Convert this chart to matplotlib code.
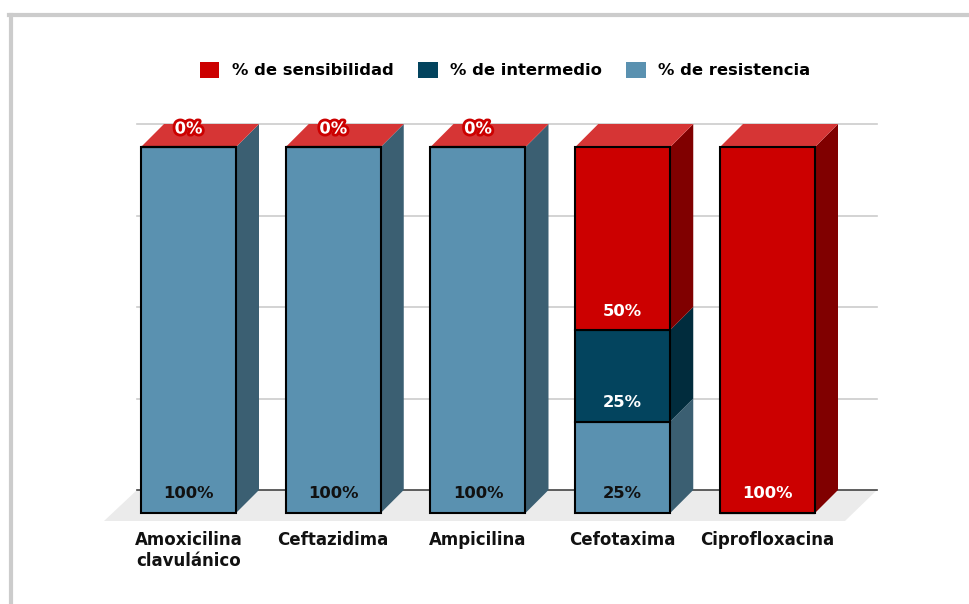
import matplotlib
matplotlib.use("Agg")
import matplotlib.pyplot as plt
from matplotlib.patches import Polygon, Patch
from matplotlib.lines import Line2D
import matplotlib.patheffects as pe

# ---- data ----
categories = ["Amoxicilina\nclavulánico", "Ceftazidima", "Ampicilina", "Cefotaxima", "Ciprofloxacina"]
series_names = ["% de sensibilidad", "% de intermedio", "% de resistencia"]
sensibilidad = [0, 0, 0, 50, 100]
intermedio = [0, 0, 0, 25, 0]
resistencia = [100, 100, 100, 25, 0]
gridticks = [0, 25, 50, 75, 100]

# ---- style ----
front_col = {"sens": "#cc0000", "inter": "#03445e", "res": "#5a91b0"}
side_col = {"sens": "#800000", "inter": "#012c3d", "res": "#3b5f72"}
top_col = "#d63535"
label_col = {"sens": "white", "inter": "white", "res": "#111111"}

W, H = 970, 604
fig = plt.figure(figsize=(W / 100, H / 100), dpi=100)
ax = fig.add_axes([0, 0, 1, 1])
PXC, PXP, X0, Y0 = 144.75, 3.66, 188.5, 513.0
ax.set_xlim(-X0 / PXC, (W - X0) / PXC)
ax.set_ylim((Y0 - H) / PXP, Y0 / PXP)
ax.axis("off")

DX = 23 / PXC
DY = 23 / PXP
BW = 95 / PXC
gl_left, gl_right = (137 - X0) / PXC, (877 - X0) / PXC

# floor
fl_front_y = (Y0 - 521) / PXP
floor = Polygon([(gl_left, DY), (gl_right, DY), ((845 - X0) / PXC, fl_front_y),
                 ((104 - X0) / PXC, fl_front_y)], closed=True, facecolor="#ebebeb",
                edgecolor="none", zorder=1)
ax.add_patch(floor)

# gridlines (back wall)
for v in gridticks[1:]:
    ax.plot([gl_left, gl_right], [v + DY, v + DY], color="#cccccc", lw=1.2, zorder=2)
ax.plot([gl_left, gl_right], [DY, DY], color="#444444", lw=1.2, zorder=2)

stack = [("res", resistencia), ("inter", intermedio), ("sens", sensibilidad)]
for i in range(len(categories)):
    bottom = 0
    for key, vals in stack:
        v = vals[i]
        y0, y1 = bottom, bottom + v
        xr = i + BW / 2
        if v > 0:
            side = Polygon([(xr, y0), (xr + DX, y0 + DY), (xr + DX, y1 + DY), (xr, y1)],
                           closed=True, facecolor=side_col[key], edgecolor="none", zorder=3)
            ax.add_patch(side)
        ax.bar(i, v, width=BW, bottom=y0, color=front_col[key], edgecolor="black",
               linewidth=1.5, zorder=4)
        bottom = y1
    # top face
    top = Polygon([(i - BW / 2, bottom), (i - BW / 2 + DX, bottom + DY),
                   (i + BW / 2 + DX, bottom + DY), (i + BW / 2, bottom)],
                  closed=True, facecolor=top_col, edgecolor="none", zorder=3)
    ax.add_patch(top)

# value labels
lab_off = 19 / PXP
vfont = dict(fontsize=11.8, fontweight="bold", family="DejaVu Sans")
for i in range(len(categories)):
    bottom = 0
    for key, vals in stack:
        v = vals[i]
        if v > 0:
            ax.text(i, bottom + lab_off, f"{v}%", ha="center", va="center",
                    color=label_col[key], zorder=6, **vfont)
        elif key == "sens":
            ax.text(i, bottom + 18 / PXP, f"{v}%", ha="center", va="center",
                    color="white", zorder=6,
                    path_effects=[pe.withStroke(linewidth=4, foreground="#cc0000")], **vfont)
        bottom += v

# category labels
for i, c in enumerate(categories):
    ax.text(i, (Y0 - 531) / PXP, c, ha="center", va="top", fontsize=12,
            fontweight="bold", family="DejaVu Sans", color="#111111", linespacing=1.25)

# legend
handles = [Patch(facecolor=front_col["sens"]), Patch(facecolor=front_col["inter"]),
           Patch(facecolor=front_col["res"])]
fig.legend(handles, series_names, loc="center", bbox_to_anchor=(505 / W, 1 - 70 / H),
           ncol=3, frameon=False, prop={"family": "DejaVu Sans", "weight": "bold", "size": 11.8},
           handlelength=1.2, handleheight=1.2, handletextpad=0.75, columnspacing=1.5)

# outer frame
fig.add_artist(Line2D([11 / W, 11 / W], [-0.1, 1 - 15 / H], transform=fig.transFigure,
                      color="#cccccc", lw=3))
fig.add_artist(Line2D([9 / W, 1.1], [1 - 15 / H, 1 - 15 / H], transform=fig.transFigure,
                      color="#cccccc", lw=3))

fig.savefig("out.png", dpi=100)
